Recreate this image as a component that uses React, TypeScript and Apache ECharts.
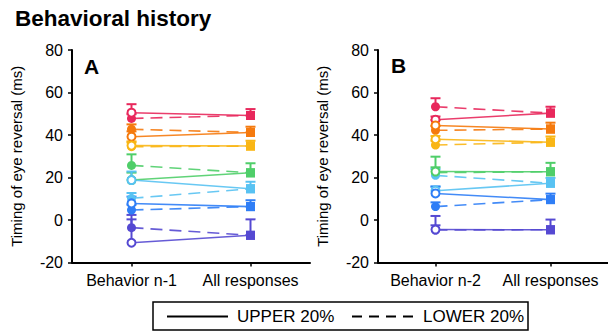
import React, { useEffect, useRef } from "react";
import * as echarts from "echarts";

const COLORS = ["#e8285c", "#f57a0e", "#f9b615", "#4fce69", "#58c2f2", "#2f7ef6", "#5549d2"];

const CATS_A = ["Behavior n-1", "All responses"];
const CATS_B = ["Behavior n-2", "All responses"];
const Y_TICKS = { min: -20, max: 80, interval: 20 };

// Panel A
const A_UPPER = [50.5, 39.2, 35.0, 18.8, 18.8, 7.8, -10.7];
const A_UPPER_ERR = [4.0, 2.5, 2.0, 3.5, 4.0, 3.2, 11.0];
const A_LOWER = [47.8, 42.7, 34.5, 25.7, 10.2, 4.7, -3.6];
const A_LOWER_ERR = [2.0, 2.3, 2.0, 5.2, 2.5, 2.5, 6.0];
const A_ALL = [49.2, 41.2, 34.8, 22.2, 14.7, 6.3, -7.2];
const A_ALL_ERR = [3.0, 2.7, 2.5, 4.5, 3.3, 3.0, 7.5];

// Panel B
const B_UPPER = [47.2, 44.5, 38.0, 22.8, 13.8, 12.5, -4.5];
const B_UPPER_ERR = [1.5, 2.5, 1.5, 2.0, 2.0, 3.2, 2.0];
const B_LOWER = [53.3, 42.2, 35.3, 22.3, 21.0, 6.3, -4.7];
const B_LOWER_ERR = [4.0, 2.0, 2.0, 7.5, 3.0, 2.0, 6.6];
const B_ALL = [50.3, 42.8, 36.6, 22.7, 17.3, 9.6, -4.6];
const B_ALL_ERR = [3.0, 3.0, 2.7, 4.2, 2.5, 2.8, 4.8];

const FONT = "Liberation Sans, Arial, Helvetica, sans-serif";

function panelSeries(idx: number, up: number[], upE: number[], lo: number[], loE: number[], all: number[], allE: number[]) {
  const errData: number[][] = [];
  for (let i = 0; i < COLORS.length; i++) {
    errData.push([0, up[i], upE[i], i]);
    errData.push([0, lo[i], loE[i], i]);
    errData.push([1, all[i], allE[i], i]);
  }
  const series: any[] = [
    {
      type: "custom",
      xAxisIndex: idx,
      yAxisIndex: idx,
      z: 1,
      silent: true,
      data: errData,
      renderItem: (params: any, api: any) => {
        const x = api.value(0);
        const v = api.value(1);
        const e = api.value(2);
        const c = COLORS[api.value(3)];
        const p0 = api.coord([x, v]);
        const p1 = api.coord([x, v + e]);
        const st = { stroke: c, lineWidth: 2 };
        return {
          type: "group",
          children: [
            { type: "line", shape: { x1: p0[0], y1: p0[1], x2: p1[0], y2: p1[1] }, style: st },
            { type: "line", shape: { x1: p1[0] - 5, y1: p1[1], x2: p1[0] + 5, y2: p1[1] }, style: st },
          ],
        };
      },
    },
  ];
  for (let i = 0; i < COLORS.length; i++) {
    const c = COLORS[i];
    series.push({
      type: "line",
      xAxisIndex: idx,
      yAxisIndex: idx,
      z: 2,
      symbolSize: 9,
      lineStyle: { color: c, width: 1.6, type: [12, 7], opacity: 0.9 },
      itemStyle: { color: c },
      data: [
        { value: lo[i], symbol: "circle" },
        { value: all[i], symbol: "rect" },
      ],
    });
  }
  for (let i = 0; i < COLORS.length; i++) {
    const c = COLORS[i];
    series.push({
      type: "line",
      xAxisIndex: idx,
      yAxisIndex: idx,
      z: 3,
      symbolSize: 9,
      lineStyle: { color: c, width: 1.6, opacity: 0.9 },
      itemStyle: { color: c },
      data: [
        { value: up[i], symbol: "circle", symbolSize: 8, itemStyle: { color: "#ffffff", borderColor: c, borderWidth: 2 } },
        { value: all[i], symbol: "rect" },
      ],
    });
  }
  return series;
}

export default function App() {
  const ref = useRef<HTMLDivElement>(null);
  useEffect(() => {
    if (!ref.current) return;
    const chart = echarts.init(ref.current, null, { renderer: "svg" });
    const axisCommon = {
      axisLine: { show: true, onZero: false, lineStyle: { color: "#000", width: 2 } },
      axisTick: { show: true, length: 4, lineStyle: { color: "#000", width: 1.5 } },
      axisLabel: { color: "#000", fontSize: 16, fontFamily: FONT },
      splitLine: { show: false },
    };
    const yAxis = (i: number) => ({
      type: "value",
      gridIndex: i,
      min: Y_TICKS.min,
      max: Y_TICKS.max,
      interval: Y_TICKS.interval,
      name: "Timing of eye reversal (ms)",
      nameLocation: "middle",
      nameGap: 48,
      nameTextStyle: { color: "#000", fontSize: 15, fontFamily: FONT },
      ...axisCommon,
      axisLabel: { ...axisCommon.axisLabel, margin: 9 },
    });
    const xAxis = (i: number, cats: string[]) => ({
      type: "category",
      gridIndex: i,
      data: cats,
      ...axisCommon,
      axisTick: { ...axisCommon.axisTick, alignWithLabel: true, interval: 0 },
      axisLabel: { ...axisCommon.axisLabel, margin: 10, interval: 0, hideOverlap: false },
    });
    chart.setOption({
      animation: false,
      grid: [
        { left: 72, top: 50, width: 238, height: 212.5 },
        { left: 378, top: 50, width: 238, height: 212.5 },
      ],
      xAxis: [xAxis(0, CATS_A), xAxis(1, CATS_B)],
      yAxis: [yAxis(0), yAxis(1)],
      series: [
        ...panelSeries(0, A_UPPER, A_UPPER_ERR, A_LOWER, A_LOWER_ERR, A_ALL, A_ALL_ERR),
        ...panelSeries(1, B_UPPER, B_UPPER_ERR, B_LOWER, B_LOWER_ERR, B_ALL, B_ALL_ERR),
      ],
      graphic: [
        { type: "text", left: 15, top: 7, style: { text: "Behavioral history", font: `bold 22.5px ${FONT}`, fill: "#000" } },
        { type: "text", left: 84, top: 56, style: { text: "A", font: `bold 21px ${FONT}`, fill: "#000" } },
        { type: "text", left: 391, top: 55, style: { text: "B", font: `bold 21px ${FONT}`, fill: "#000" } },
        { type: "rect", shape: { x: 153, y: 302, width: 375, height: 28 }, style: { fill: "none", stroke: "#000", lineWidth: 1.5 } },
        { type: "line", shape: { x1: 167, y1: 316.5, x2: 228, y2: 316.5 }, style: { stroke: "#000", lineWidth: 2 } },
        { type: "text", x: 237, y: 316.5, style: { text: "UPPER 20%", font: `17px ${FONT}`, fill: "#000", verticalAlign: "middle" } },
        { type: "line", shape: { x1: 352, y1: 316.5, x2: 413, y2: 316.5 }, style: { stroke: "#000", lineWidth: 2, lineDash: [10, 7] } },
        { type: "text", x: 423, y: 316.5, style: { text: "LOWER 20%", font: `17px ${FONT}`, fill: "#000", verticalAlign: "middle" } },
      ],
    });
    return () => chart.dispose();
  }, []);
  return <div ref={ref} style={{ position: "fixed", left: 0, top: 0, width: 608, height: 333, background: "#fff" }} />;
}
